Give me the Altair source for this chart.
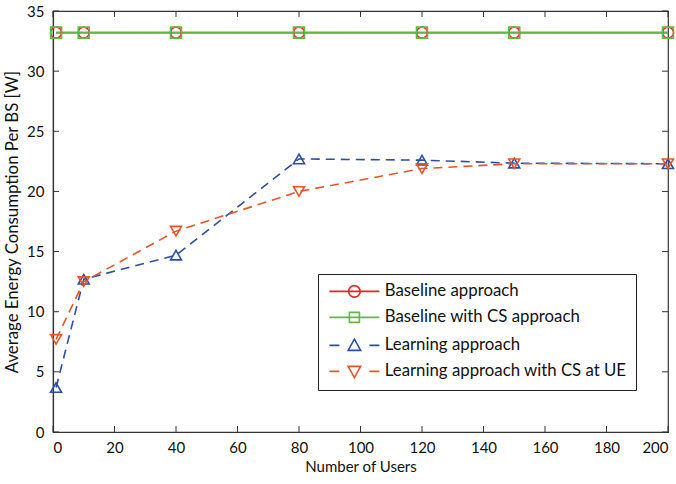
import altair as alt
import pandas as pd

users = [1, 10, 40, 80, 120, 150, 200]
baseline = [33.2, 33.2, 33.2, 33.2, 33.2, 33.2, 33.2]
baseline_cs = [33.2, 33.2, 33.2, 33.2, 33.2, 33.2, 33.2]
learning = [3.7, 12.7, 14.7, 22.7, 22.6, 22.35, 22.3]
learning_cs = [7.7, 12.5, 16.7, 20.0, 21.9, 22.3, 22.3]

names = ["Baseline approach", "Baseline with CS approach",
         "Learning approach", "Learning approach with CS at UE"]
colors = ["#ee2024", "#62b847", "#2e4ea3", "#e4562a"]
shapes = ["circle", "square", "triangle-up", "triangle-down"]
dashes = [[1, 0], [1, 0], [9, 6], [9, 6]]
legend_paths = [
    "M-5,0L5,0M-1.15,0A1.15,1.15,0,1,1,1.15,0A1.15,1.15,0,1,1,-1.15,0",
    "M-5,0L5,0M-1,-1L1,-1L1,1L-1,1Z",
    "M-5,0L-3,0M3,0L5,0M0,-1.25L1.25,1L-1.25,1Z",
    "M-5,0L-3,0M3,0L5,0M0,1.25L1.25,-1L-1.25,-1Z",
]
x_ticks = [0, 20, 40, 60, 80, 100, 120, 140, 160, 180, 200]
y_ticks = [0, 5, 10, 15, 20, 25, 30, 35]

rows = []
for name, vals in zip(names, [baseline, baseline_cs, learning, learning_cs]):
    for u, v in zip(users, vals):
        rows.append({"series": name, "users": u, "value": v})
df = pd.DataFrame(rows)

W, H = 615, 421
FONT = "Lato"

xs = alt.Scale(domain=[0, 200], nice=False)
ys = alt.Scale(domain=[0, 35], nice=False)

x_enc = alt.X("users:Q", scale=xs,
              axis=alt.Axis(values=x_ticks, title="Number of Users", ticks=False,
                            labelPadding=8, titlePadding=4, grid=False))
y_enc = alt.Y("value:Q", scale=ys,
              axis=alt.Axis(values=y_ticks, title="Average Energy Consumption Per BS [W]",
                            ticks=False, labelPadding=9, titlePadding=5, grid=False,
                            titleFontSize=16.8))

base = alt.Chart(df)

lines = base.mark_line(strokeWidth=1.6).encode(
    x=x_enc, y=y_enc,
    color=alt.Color("series:N", scale=alt.Scale(domain=names, range=colors), legend=None),
    strokeDash=alt.StrokeDash("series:N", scale=alt.Scale(domain=names, range=dashes), legend=None),
    order=alt.Order("users:Q"),
)

points = base.mark_point(filled=False, strokeWidth=1.6, size=120, opacity=1).encode(
    x=alt.X("users:Q", scale=xs),
    y=alt.Y("value:Q", scale=ys),
    color=alt.Color("series:N", scale=alt.Scale(domain=names, range=colors), legend=None),
    shape=alt.Shape("series:N", scale=alt.Scale(domain=names, range=shapes), legend=None),
)

leg = alt.Legend(title=None, orient="none", legendX=265, legendY=263,
                 labelFont=FONT, labelFontSize=16.8, labelColor="#111",
                 strokeColor="#222", fillColor="white", padding=9,
                 symbolOffset=19, labelOffset=22, rowPadding=8,
                 symbolStrokeWidth=1.6, symbolSize=100, symbolOpacity=1,
                 labelLimit=400)

legend_layer = base.mark_point(filled=False, strokeWidth=1.6, size=100, opacity=1).encode(
    x=alt.X("users:Q", scale=xs),
    y=alt.Y("value:Q", scale=ys),
    color=alt.Color("series:N", scale=alt.Scale(domain=names, range=colors), legend=leg),
    shape=alt.Shape("series:N", scale=alt.Scale(domain=names, range=legend_paths), legend=leg),
).transform_filter("false")

xt = pd.DataFrame({"t": x_ticks})
yt = pd.DataFrame({"t": y_ticks})
tick_color = "#333"
xb = alt.Chart(xt).mark_rule(color=tick_color, strokeWidth=1).encode(
    x=alt.X("t:Q", scale=xs), y=alt.value(H), y2=alt.value(H - 6))
xtop = alt.Chart(xt).mark_rule(color=tick_color, strokeWidth=1).encode(
    x=alt.X("t:Q", scale=xs), y=alt.value(0), y2=alt.value(6))
yl = alt.Chart(yt).mark_rule(color=tick_color, strokeWidth=1).encode(
    y=alt.Y("t:Q", scale=ys), x=alt.value(0), x2=alt.value(6))
yr = alt.Chart(yt).mark_rule(color=tick_color, strokeWidth=1).encode(
    y=alt.Y("t:Q", scale=ys), x=alt.value(W), x2=alt.value(W - 6))

chart = alt.layer(xb, xtop, yl, yr, lines, points, legend_layer).resolve_scale(
    color="independent", shape="independent", strokeDash="independent"
).properties(
    width=W, height=H,
    autosize=alt.AutoSizeParams(type="none"),
    padding={"left": 53, "top": 11, "right": 8, "bottom": 52},
    background="white",
).configure_view(
    stroke="#333", strokeWidth=1.2
).configure_axis(
    domainColor="#333", domainWidth=1.2,
    labelFont=FONT, labelFontSize=15, labelColor="#111",
    titleFont=FONT, titleFontSize=15, titleColor="#111", titleFontWeight="normal",
)

chart.save("out.html", embed_options={"renderer": "svg", "actions": False})
